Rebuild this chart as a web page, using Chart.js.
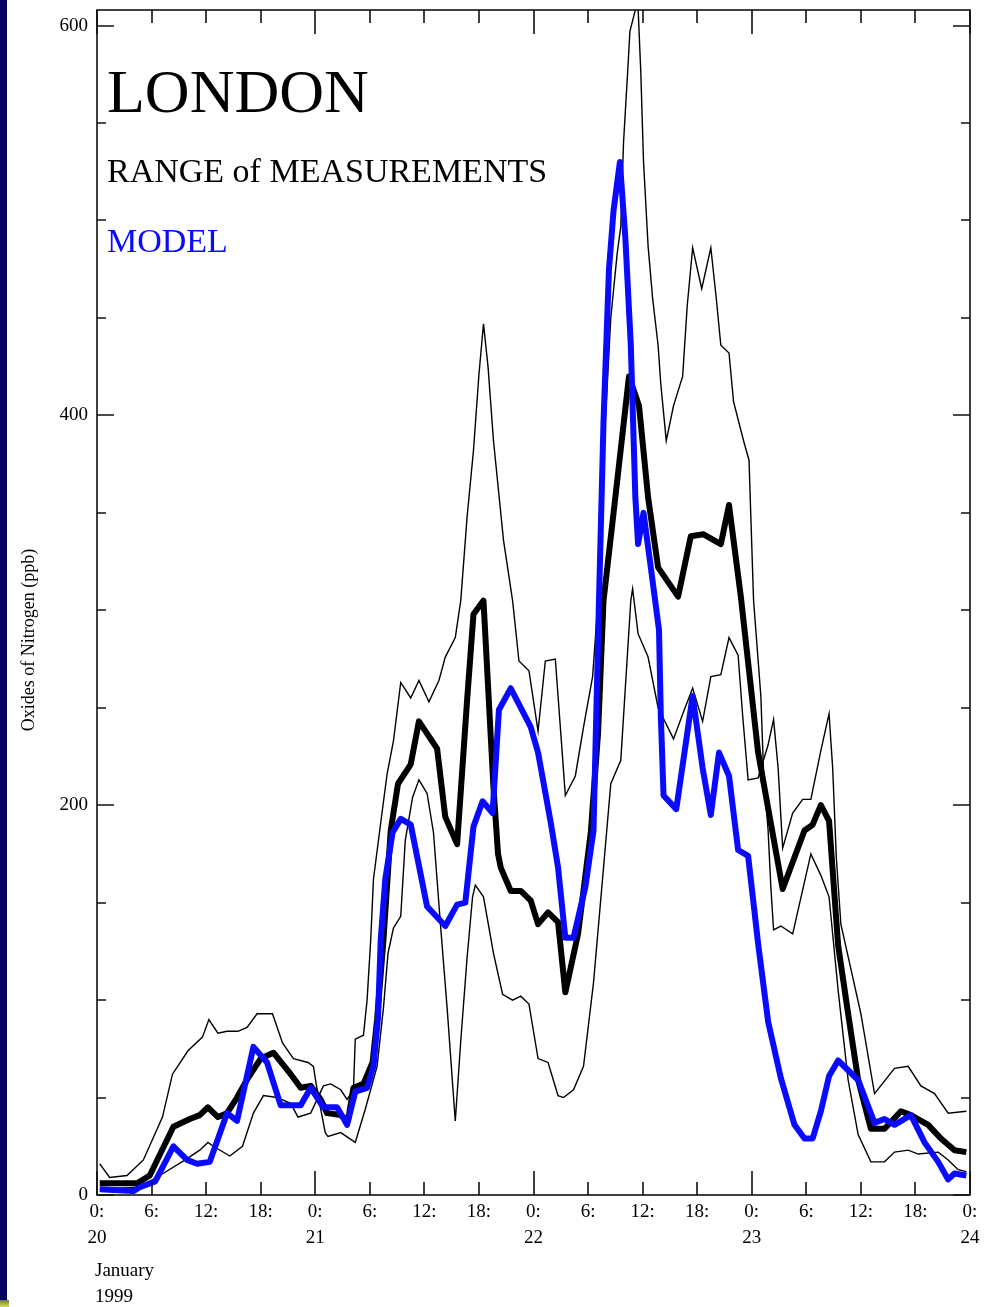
<!DOCTYPE html>
<html>
<head>
<meta charset="utf-8">
<script src="https://cdn.jsdelivr.net/npm/chart.js@4"></script>
<style>
  html, body { margin: 0; padding: 0; background: #fff; }
  body { width: 984px; height: 1307px; position: relative; overflow: hidden; font-family: "Liberation Serif", "DejaVu Serif", serif; }
  #chart { position: absolute; left: 0; top: 0; }
  #strip { position: absolute; left: 0; top: 0; width: 7px; height: 1307px; background: #03035f; }
  #corner { position: absolute; left: 0; top: 1300px; width: 9px; height: 7px; background: linear-gradient(#6f7a3a, #d6e05c); }
  .txt { position: absolute; white-space: nowrap; line-height: 1; color: #000; }
  #london { left: 107px; top: 60px; font-size: 62px; }
  #range { left: 107px; top: 154px; font-size: 34px; }
  #model { left: 107px; top: 224px; font-size: 34px; color: #0a0aff; }
  #month { left: 95px; top: 1260px; font-size: 19px; }
  #year { left: 95px; top: 1286px; font-size: 19px; }
  #ytitle { left: -122px; top: 631px; width: 300px; text-align: center; font-size: 18px; transform: rotate(-90deg); }
</style>
</head>
<body>
<canvas id="chart" width="984" height="1307"></canvas>
<div id="strip"></div>
<div id="corner"></div>
<div class="txt" id="london">LONDON</div>
<div class="txt" id="range">RANGE of MEASUREMENTS</div>
<div class="txt" id="model">MODEL</div>
<div class="txt" id="ytitle">Oxides of Nitrogen (ppb)</div>
<div class="txt" id="month">January</div>
<div class="txt" id="year">1999</div>
<script>
// tick labels
const hourLabels = ['0:', '6:', '12:', '18:'];
const dayLabels = ['20', '21', '22', '23', '24'];
const yTickValues = [0, 50, 100, 150, 200, 250, 300, 350, 400, 450, 500, 550, 600];

// measured mean (thick black), hours since 0:00 on the 20th
const meanHours = [0.3, 4.4, 5.8, 8.4, 10.2, 11.3, 12.2, 13.3, 14.3, 15.4, 16.6, 18.0, 19.4, 21.3, 22.4, 23.5,
  24.6, 25.3, 26.8, 27.6, 28.2, 29.3, 30.3, 30.8, 31.5, 32.3, 33.1, 34.5, 35.4, 37.4, 38.3, 39.6, 40.7, 41.4,
  42.5, 43.6, 44.1, 44.4, 45.5, 46.6, 47.7, 48.5, 49.6, 50.7, 51.5, 52.9, 54.3, 55.1, 55.7, 57.0, 58.5, 59.6,
  60.6, 61.7, 63.9, 65.3, 66.7, 68.6, 69.5, 70.8, 72.7, 75.4, 77.8, 78.7, 79.6, 80.5, 81.5, 82.6, 83.7, 85.1,
  86.6, 88.4, 89.5, 91.4, 92.8, 94.3, 95.6];
const meanValues = [6, 6, 10, 35, 39, 41, 45, 40, 42, 50, 60, 70, 73, 62, 55, 56,
  49, 42, 41, 38, 55, 57, 68, 90, 131, 187, 211, 221, 243, 229, 194, 180, 254, 298,
  305, 209, 175, 168, 156, 156, 151, 139, 145, 140, 104, 134, 186, 237, 305, 358, 420, 405,
  358, 322, 307, 338, 339, 334, 354, 307, 227, 157, 187, 190, 200, 192, 128, 93, 59, 34,
  34, 43, 41, 36, 29, 23, 22];

// model (thick blue)
const modelHours = [0.3, 4.0, 4.7, 6.4, 8.4, 9.9, 11.0, 12.4, 14.3, 15.4, 17.2, 18.7, 20.2, 22.4, 23.5, 24.9,
  26.4, 27.5, 28.4, 29.7, 30.4, 30.9, 31.2, 31.7, 32.5, 33.4, 34.5, 36.3, 38.3, 39.6, 40.5, 41.4, 42.4, 43.5,
  44.2, 45.5, 47.7, 48.5, 49.9, 50.7, 51.5, 52.4, 53.7, 54.6, 55.2, 55.7, 56.3, 56.8, 57.5, 58.1, 58.7, 59.2,
  59.5, 60.1, 60.9, 61.8, 62.0, 62.3, 63.7, 65.5, 66.6, 67.5, 68.4, 69.5, 70.5, 71.6, 72.7, 73.8, 75.2, 76.7,
  77.8, 78.7, 79.6, 80.5, 81.5, 83.7, 85.5, 86.6, 87.7, 89.5, 91.0, 92.5, 93.6, 94.3, 95.6];
const modelValues = [3, 2, 4, 7, 25, 18, 16, 17, 42, 38, 76, 68, 46, 46, 55, 45,
  45, 36, 53, 55, 66, 91, 131, 162, 186, 193, 190, 148, 138, 149, 150, 189, 202, 196,
  249, 260, 240, 227, 191, 168, 132, 132, 158, 187, 305, 397, 475, 505, 530, 491, 436, 358,
  334, 350, 322, 290, 246, 205, 198, 256, 219, 195, 227, 215, 177, 174, 129, 89, 60, 36,
  29, 29, 43, 61, 69, 59, 37, 39, 36, 41, 27, 17, 8, 11, 10];

// range of measurements, first thin line (upper on the 20th)
const rangeAHours = [0.3, 1.4, 3.3, 5.1, 7.2, 8.3, 10.0, 11.6, 12.3, 13.3, 14.3, 15.5, 16.5, 17.6, 19.3, 20.4,
  21.6, 23.2, 23.8, 24.1, 24.6, 25.1, 25.4, 26.8, 28.4, 29.5, 30.8, 31.5, 32.0, 32.6, 33.4, 33.9, 34.7, 35.4,
  36.3, 37.0, 37.8, 38.5, 39.4, 40.0, 40.7, 41.3, 41.6, 42.5, 43.6, 44.6, 45.7, 46.6, 47.5, 48.5, 49.6, 50.7,
  51.3, 52.4, 53.5, 54.6, 55.7, 56.5, 57.6, 58.7, 58.9, 59.5, 60.6, 61.7, 63.4, 64.5, 65.5, 66.6, 67.5, 68.6,
  69.5, 70.5, 71.0, 71.6, 72.7, 73.8, 74.4, 74.9, 75.4, 76.5, 77.6, 78.5, 79.6, 80.5, 80.9, 81.3, 81.8, 82.9,
  84.0, 85.5, 87.7, 89.2, 90.6, 92.1, 93.6, 95.6];
const rangeAValues = [16, 9, 10, 18, 40, 62, 74, 81, 90, 83, 84, 84, 86, 93, 93, 78,
  70, 68, 66, 57, 44, 32, 30, 32, 27, 44, 66, 96, 124, 137, 143, 182, 204, 213,
  206, 186, 137, 96, 38, 79, 122, 153, 159, 153, 124, 103, 100, 102, 98, 70, 68, 51,
  50, 54, 66, 109, 168, 211, 223, 305, 311, 288, 276, 250, 234, 248, 260, 243, 266, 267,
  286, 277, 246, 213, 214, 231, 244, 219, 178, 196, 203, 203, 228, 247, 219, 173, 139, 116,
  93, 52, 65, 66, 56, 52, 42, 43];

// range of measurements, second thin line (lower on the 20th)
const rangeBHours = [0.3, 4.7, 6.9, 9.7, 11.3, 12.2, 12.8, 14.6, 16.0, 17.2, 18.3, 19.8, 21.3, 22.1, 23.5, 24.9,
  25.7, 26.8, 27.5, 28.2, 28.4, 29.3, 29.7, 30.1, 30.4, 31.2, 31.9, 32.6, 33.4, 34.5, 35.4, 36.5, 37.6, 38.3,
  39.4, 40.0, 40.7, 41.4, 42.0, 42.5, 43.0, 43.6, 44.7, 45.7, 46.4, 47.5, 48.5, 49.3, 50.4, 51.0, 51.5, 52.6,
  53.5, 54.5, 55.1, 55.7, 56.5, 57.2, 57.6, 57.9, 58.4, 58.6, 59.2, 59.4, 59.8, 60.1, 60.6, 61.1, 61.7, 62.0,
  62.6, 63.4, 64.4, 64.9, 65.5, 66.5, 67.5, 68.1, 68.6, 69.5, 70.0, 71.1, 71.7, 71.9, 72.2, 73.0, 73.3, 73.8,
  74.1, 74.4, 75.2, 76.5, 78.5, 79.6, 80.5, 81.5, 82.6, 83.7, 85.1, 86.6, 87.7, 89.2, 90.3, 92.5, 93.6, 94.7, 95.6];
const rangeBValues = [3, 4, 10, 18, 23, 27, 25, 20, 25, 42, 51, 50, 47, 40, 42, 56,
  57, 54, 49, 54, 80, 82, 100, 131, 162, 191, 216, 233, 263, 255, 264, 253, 264, 276,
  286, 305, 348, 382, 421, 447, 425, 387, 336, 305, 274, 269, 238, 274, 275, 237, 205, 215,
  240, 266, 305, 380, 450, 483, 497, 540, 580, 597, 608, 620, 576, 530, 487, 460, 436, 416,
  387, 405, 420, 456, 486, 465, 486, 460, 436, 432, 407, 387, 377, 348, 305, 256, 217, 187,
  158, 136, 138, 134, 175, 164, 153, 105, 59, 31, 17, 17, 22, 23, 21, 22, 18, 13, 12];

const toPoints = (hours, values) => hours.map((h, i) => ({ x: h, y: values[i] }));

// box round the plot with inward tick marks on all four sides
const frameTicks = {
  id: 'frameTicks',
  afterDatasetsDraw(chart) {
    const { ctx, chartArea: a, scales: { x, y } } = chart;
    ctx.save();
    ctx.strokeStyle = '#111';
    ctx.lineWidth = 1.6;
    ctx.strokeRect(a.left, a.top, a.right - a.left, a.bottom - a.top);
    ctx.beginPath();
    y.ticks.forEach(t => {
      const py = Math.round(y.getPixelForValue(t.value));
      const len = t.value % 200 === 0 ? 17 : 9;
      ctx.moveTo(a.left, py); ctx.lineTo(a.left + len, py);
      ctx.moveTo(a.right, py); ctx.lineTo(a.right - len, py);
    });
    x.ticks.forEach(t => {
      const px = Math.round(x.getPixelForValue(t.value));
      const len = t.value % 24 === 0 ? 24 : 13;
      ctx.moveTo(px, a.bottom); ctx.lineTo(px, a.bottom - len);
      ctx.moveTo(px, a.top); ctx.lineTo(px, a.top + len);
    });
    ctx.stroke();
    ctx.restore();
  }
};

const fontFamily = '"Liberation Serif", "DejaVu Serif", serif';

new Chart(document.getElementById('chart').getContext('2d'), {
  type: 'line',
  data: {
    datasets: [
      {
        label: 'MODEL',
        data: toPoints(modelHours, modelValues),
        borderColor: '#0a0aff',
        borderWidth: 6,
        borderJoinStyle: 'round'
      },
      {
        label: 'Mean of measurements',
        data: toPoints(meanHours, meanValues),
        borderColor: '#000',
        borderWidth: 6,
        borderJoinStyle: 'round'
      },
      {
        label: 'Range A',
        data: toPoints(rangeAHours, rangeAValues),
        borderColor: '#000',
        borderWidth: 1.4
      },
      {
        label: 'Range B',
        data: toPoints(rangeBHours, rangeBValues),
        borderColor: '#000',
        borderWidth: 1.4
      }
    ]
  },
  options: {
    responsive: false,
    animation: false,
    layout: { padding: { left: 8, right: 14, top: 10, bottom: 0 } },
    elements: {
      point: { radius: 0, hoverRadius: 0 },
      line: { tension: 0, fill: false }
    },
    plugins: {
      legend: { display: false },
      tooltip: { enabled: false }
    },
    scales: {
      x: {
        type: 'linear',
        min: 0,
        max: 96,
        afterFit: (scale) => {
          scale.height = 112;
          scale.paddingLeft = 0;
          scale.paddingRight = 0;
        },
        grid: { display: false, drawTicks: false },
        border: { display: false },
        ticks: {
          stepSize: 6,
          autoSkip: false,
          maxRotation: 0,
          padding: 4,
          color: '#000',
          font: { family: fontFamily, size: 19, lineHeight: 1.37 },
          callback: (v) => {
            if (v % 6 !== 0) return '';
            const hh = v % 24;
            return [hourLabels[hh / 6], hh === 0 ? dayLabels[v / 24] : ''];
          }
        }
      },
      y: {
        min: 0,
        max: 608,
        afterBuildTicks: (scale) => {
          scale.ticks = yTickValues.map(v => ({ value: v }));
        },
        afterFit: (scale) => {
          scale.width = 89;
          scale.paddingTop = 0;
          scale.paddingBottom = 0;
        },
        grid: { display: false, drawTicks: false },
        border: { display: false },
        ticks: {
          padding: 9,
          color: '#000',
          font: { family: fontFamily, size: 19 },
          callback: (v) => (v % 200 === 0 ? v : '')
        }
      }
    }
  },
  plugins: [frameTicks]
});
</script>
</body>
</html>
